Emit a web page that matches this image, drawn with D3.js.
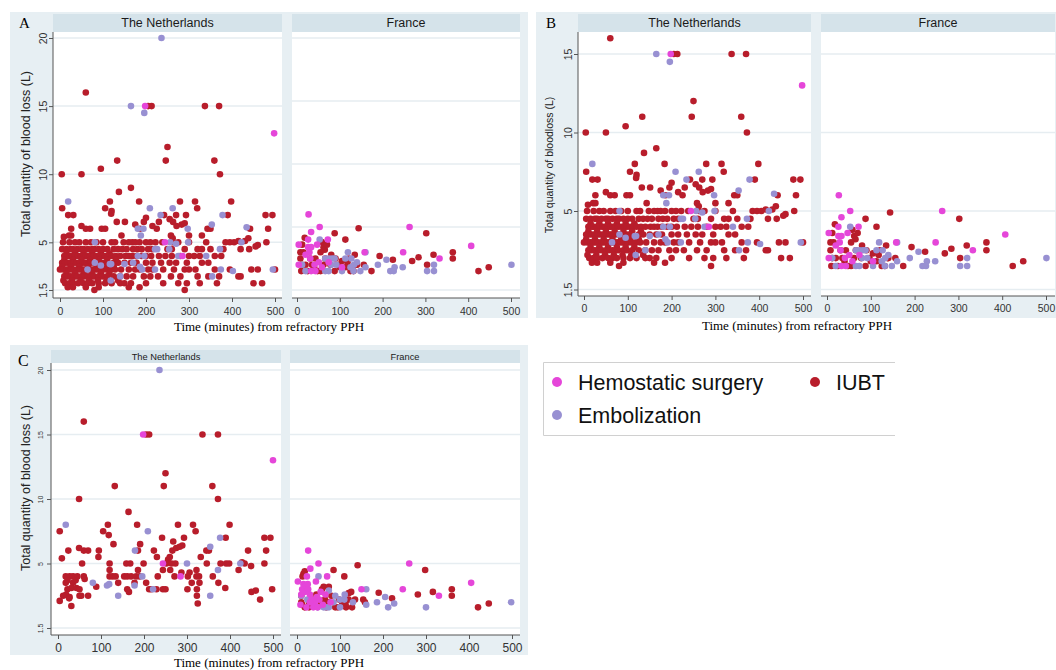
<!DOCTYPE html>
<html>
<head>
<meta charset="utf-8">
<script src="https://cdn.jsdelivr.net/npm/d3@7"></script>
<style>
body { margin: 0; background: #fff; }
svg { display: block; font-family: "Liberation Sans", Arial, sans-serif; }
</style>
</head>
<body>
<svg id="chart" width="1056" height="670"></svg>
<script>
// categories, facets and ticks
const categories = ["IUBT", "Embolization", "Hemostatic surgery"];
const countries = ["The Netherlands", "France"];
const xTickValues = [0, 100, 200, 300, 400, 500];
const yTicksA = [1.5, 5, 10, 15, 20];
const gridFranceA = [0, 5, 10, 15, 20];
const yTicksB = [0, 5, 10, 15];
const yTickLabelsB = ["1.5", "5", "10", "15"];
const yTicksC = [0, 5, 10, 15, 20];
const yTickLabelsC = ["1.5", "5", "10", "15", "20"];

// [minutes from refractory PPH, blood loss in L] - panels A and B
const nlIubt = [
    [60,16],[205,15],[213,15],[337,15],[370,15],[250,12],[246,11],[133,11],[359,11],
    [4,10],[50,10],[372,10],[95,10.4],[137,8.7],[165,9],
    [116,8],[184,8],[279,8],[314,8],[398,8],[5,7.5],[105,7.5],[319,7.5],[120,7.3],
    [19,7],[31,7],[119,7.1],[242,7],[293,7],[390,7],[478,7],[494,7],[270,7],
    [50,6.2],[60,6],[70,6],[26,6],[97,6],[105,6],[186,6],[225,6],[263,6.5],[271,6.2],[283,6.3],
    [290,6.4],[343,6],[350,6],[442,6],[484,6],[9,5.4],[21,5.5],[26,5.5],[132,6.5],[151,6.5],
    [200,6.8],[230,6.5],[255,6.7],[300,5.5],[330,5.5],[143,5.5],[258,5.5],[262,5.3],[195,6.5],
    [175,6.3],[215,6.2],[460,4.8],[430,5.1],[415,5.1],[420,4.5],[438,5.3],[455,4.7],
    [7,5],[22,5],[35,5],[45,5],[60,5],[72,5],[85,5],[100,5],[120,5],[128,5],[148,5],[160,5],
    [168,5],[175,5],[185,5],[200,5],[210,5],[222,5],[238,5],[262,5],[275,5],[300,5],[340,5],
    [385,5],[395,5],[405,5],[480,5],
    [5,4.5],[15,4.5],[25,4.5],[30,4.5],[40,4.5],[50,4.5],[55,4.5],[65,4.5],[75,4.5],[80,4.5],
    [90,4.5],[100,4.5],[110,4.5],[125,4.5],[135,4.5],[145,4.5],[155,4.5],[170,4.5],[180,4.5],
    [190,4.5],[205,4.5],[215,4.5],[250,4.5],[260,4.5],[290,4.5],[320,4.5],[330,4.5],[350,4.5],
    [380,4.5],[440,4.5],
    [15,4.2],[35,4.2],[55,4.2],[75,4.2],[95,4.2],[115,4.2],
    [10,4],[18,4],[22,4],[28,4],[35,4],[42,4],[48,4],[55,4],[60,4],[65,4],[70,4],[78,4],[85,4],
    [92,4],[98,4],[105,4],[112,4],[120,4],[130,4],[140,4],[152,4],[160,4],[168,4],[178,4],
    [190,4],[200,4],[212,4],[230,4],[245,4],[260,4],[280,4],[300,4],[312,4],[325,4],[360,4],[375,4],
    [10,3.7],[30,3.7],[50,3.7],[70,3.7],[90,3.7],[110,3.7],[130,3.7],
    [5,3.5],[12,3.5],[18,3.5],[25,3.5],[32,3.5],[38,3.5],[45,3.5],[52,3.5],[58,3.5],[62,3.5],
    [68,3.5],[72,3.5],[80,3.5],[88,3.5],[95,3.5],[102,3.5],[110,3.5],[125,3.5],[135,3.5],
    [150,3.5],[165,3.5],[178,3.5],[200,3.5],[215,3.5],[235,3.5],[255,3.5],[270,3.5],[295,3.5],
    [330,3.5],[345,3.5],
    [5,3.2],[25,3.2],[45,3.2],[65,3.2],[85,3.2],[105,3.2],[125,3.2],
    [0,3],[8,3],[15,3],[20,3],[26,3],[32,3],[40,3],[46,3],[52,3],[58,3],[64,3],[70,3],[76,3],
    [84,3],[90,3],[100,3],[108,3],[118,3],[128,3],[142,3],[160,3],[175,3],[185,3],[205,3],
    [215,3],[240,3],[265,3],[290,3],[300,3],[315,3],[360,3],[395,3],[445,3],[460,3],[500,3],
    [15,2.7],[35,2.7],[55,2.7],[75,2.7],[95,2.7],[115,2.7],
    [10,2.5],[18,2.5],[25,2.5],[33,2.5],[40,2.5],[50,2.5],[57,2.5],[65,2.5],[72,2.5],[78,2.5],
    [90,2.5],[98,2.5],[110,2.5],[125,2.5],[140,2.5],[155,2.5],[170,2.5],[195,2.5],[210,2.5],
    [228,2.5],[258,2.5],[280,2.5],[320,2.5],[345,2.5],[370,2.5],[415,2.5],[420,2.5],
    [8,2.2],[28,2.2],[48,2.2],[68,2.2],[88,2.2],[108,2.2],[135,2.2],
    [12,2],[22,2],[30,2],[42,2],[55,2],[65,2],[75,2],[90,2],[105,2],[120,2],[140,2],[150,2],
    [165,2],[200,2],[240,2],[275,2],[295,2],[325,2],[365,2],[450,2],[470,2],
    [18,1.7],[30,1.7],[60,1.7],[90,1.7],[160,1.7],[185,1.7],[80,1.5],[290,1.5]
];
const nlEmbo = [
    [236,20],[165,15],[196,14.5],[19,8],[209,7.5],[234,7],[262,7.5],[378,7],[353,6.3],[434,6.1],
    [181,6],[194,6],[188,5.5],[297,6],[81,5],[256,5],[298,5],[270,4.9],[221,4.5],[226,4.5],
    [254,4.5],[372,4.5],[422,5],[181,4],[196,4],[275,4],[340,4],[81,3.5],[95,3.3],[116,3.4],
    [119,3.4],[150,3.4],[170,3.5],[186,3.2],[191,3],[221,3],[64,3],[118,2.2],[140,2.5],
    [354,2.5],[374,3],[402,2.9],[495,3]
];
const nlHemo = [[198,15],[498,13],[244,5],[285,4]];

const frIubt = [
    [144,4.9],[88,4.5],[18,4.15],[113,4],[302,4.5],[364,3],[364,2.5],[193,2.7],[284,2.6],
    [319,2.8],[224,2.4],[269,2.3],[304,2],[174,1.5],[424,1.5],[448,1.8],
    [8,3],[15,3],[12,3.6],[58,3.8],[62,3.4],[65,3.2],[55,3],[70,3.6],[80,2.8],
    [8,2.5],[12,2],[20,2],[31,2.5],[35,2],[43,2.5],[55,1.5],[62,2],[66,2.5],[78,2],[90,2.5],
    [97,2],[113,1.8],[121,2.5],[132,1.5],[140,2],[156,2],[10,1.5],[25,1.5],[40,1.8],[48,1.5],
    [88,1.5],[100,1.8],[118,2.2],[125,1.5],[105,2.3],[135,2.8],[138,2]
];
const frEmbo = [
    [53,4],[119,3],[160,3],[209,2.4],[189,2],[228,1.8],[247,1.8],[320,2],[304,1.5],[320,1.5],
    [218,1.5],[226,1.5],[501,2],[12,2],[20,1.5],[66,2.5],[74,2.5],[82,2.5],[88,2.5],[113,2.5],
    [127,2.5],[133,2],[140,2.2],[66,1.5],[74,1.5],[105,1.5],[125,1.8],[132,1.5],[148,1.5],
    [160,1.8],[92,2],[80,2]
];
const frHemo = [
    [27,6],[53,5],[33,4.6],[26,4],[4,3.6],[72,4],[47,3.6],[263,5],[407,3.5],[248,3],[158,3],
    [333,2.5],[26,3.4],[33,3.4],[29,3],[4,2],[31,2.5],[41,2],[51,2.2],[74,2.2],[105,1.8],
    [33,1.5],[43,1.5],[58,1.8],[20,2.8]
];

// panel C
const cNlIubt = [
    [60,16],[205,15],[212,15],[336,15],[372,15],[250,12],[246,11],[132,11],[359,11],[49,10],
    [372,10],[164,9],[116,8],[184,8],[279,8],[314,8],[399,8],[4,7.5],[105,7.5],[320,7.5],
    [118,7.2],[242,7],[293,7],[390,7],[480,7],[494,7],[129,6.5],[191,6.5],[268,6.7],
    [24,6],[60,6],[70,6],[95,6],[186,6],[223,6],[266,6],[275,6.2],[283,6.3],[289,6.4],[345,6],
    [351,6],[442,6],[484,6],[49,6.2],[9,5.4],[94,5.5],[230,5.5],[332,5.5],[256,5.3],[260,5.5],
    [56,5],[120,5],[159,5],[168,5],[199,5],[252,5],[264,5],[273,5],[346,5],[378,5],[391,5],
    [398,5],[434,5],[480,5],[120,4.5],[186,4.5],[244,4.5],[261,4.5],[322,4.5],[420,4.5],
    [449,4.8],[428,5.1],[18,4],[27,4],[35,4],[45,4],[60,4],[62,3.8],[120,4],[127,4],[134,4],
    [154,4],[161,4],[170,4],[182,4],[190,4],[232,4],[271,4],[287,4.3],[302,4],[306,4.3],
    [322,4],[328,4],[360,4],[18,3.5],[22,3.7],[35,3.5],[41,3.7],[140,3.5],[178,3.5],[205,3.5],
    [311,3.5],[329,3.5],[373,3.5],[22,3],[31,3.1],[43,3.1],[50,3],[89,3.2],[161,3],[212,3],
    [217,3],[229,3],[244,3],[250,3],[301,3],[323,3],[389,3.1],[498,3],[12,2.5],[19,2.6],
    [27,2.4],[50,2.5],[54,2.5],[70,2.5],[165,2.8],[323,2.5],[450,2.8],[460,2.9],[4,2.1],
    [26,2.3],[470,2.2],[325,1.9],[31,1.7]
];
const cNlEmbo = [
    [236,20],[18,8],[209,7.5],[377,7],[354,6.3],[179,6],[300,5],[424,5],[372,4.5],[196,4],
    [81,3.5],[114,3.3],[119,3.4],[178,3.3],[221,3],[140,2.5],[354,2.5]
];
const cNlHemo = [[198,15],[500,13],[244,5],[285,4]];

const cFrIubt = [
    [141,4.87],[85,4.5],[298,4.5],[15,4.2],[110,4],[62,3.2],[58,3],[74,3.2],[360,3],[360,2.5],
    [190,2.73],[281,2.6],[316,2.8],[221,2.3],[120,2.7],[120,2.2],[154,2.2],[158,2],[421,1.6],
    [446,1.9],[114,1.6],[128,1.6],[89,1.6],[10,2.5],[10,2],[12,1.8],[18,1.6],[28,2],[35,2.2],
    [45,2],[50,1.8],[58,2],[65,2.2],[73,2],[80,2.5],[98,2.2],[105,2],[113,1.8],[135,2.2],
    [28,1.6],[40,1.8],[68,1.6],[95,1.6],[18,4.4],[13,4],[45,2.6],[126,2.8]
];
const cFrEmbo = [
    [50,4],[161,3],[111,2.6],[89,2.5],[130,2],[161,1.8],[186,2],[205,2.4],[226,1.9],[212,1.6],
    [300,1.6],[498,2],[10,2.5],[24,2.2],[35,2],[48,1.6],[62,1.6],[68,1.6],[74,1.6],[74,2.9],
    [85,2],[100,2.2],[110,2.2],[100,1.6]
];
const cFrHemo = [
    [26,6],[50,5],[261,5],[31,4.6],[23,4],[70,4],[2,3.6],[44,3.6],[405,3.5],[150,3],[246,3],
    [330,2.5],[15,3.4],[20,3.2],[25,3.4],[12,3],[10,2.6],[18,2.8],[26,3],[30,2.6],[34,2.2],
    [42,2],[46,2.4],[52,2.2],[60,1.8],[38,1.6],[22,1.6],[48,1.6],[66,2.6],[55,2.8],[78,2],
    [8,1.8],[30,2]
];

const svg = d3.select("#chart");
const colorOf = d3.scaleOrdinal().domain(categories).range(["#b81d2b", "#9890d2", "#e546d9"]);
const xTitle = "Time (minutes) from refractory PPH";

const panels = [
    {
        label: "A", labelX: 19, labelY: 28, labelSize: 15,
        bg: [10, 12, 518, 306], stripTop: 14, plotTop: 32, axisY: 298,
        stripFont: 12.5, stripBase: 27, tickFont: 10.5, tickBase: 17,
        yTickFont: 10.5, yTickGap: 6,
        yTitle: "Total quantity of blood loss (L)", yTitleFont: 12.5, yTitleX: 30, yTitleY: 154,
        xTitleX: 269, xTitleY: 331, r: 3.3,
        facets: [
            { name: countries[0], x0: 53, x1: 282, xr: [60, 275],
              y: d3.scaleLinear().domain([1.5, 20]).range([290, 38]),
              grid: yTicksA, tickLabels: yTicksA.map(String), yAxis: true,
              series: [nlIubt, nlEmbo, nlHemo] },
            { name: countries[1], x0: 292, x1: 520, xr: [297, 511],
              y: d3.scaleLinear().domain([0, 20]).range([290, 38]),
              grid: gridFranceA, series: [frIubt, frEmbo, frHemo] }
        ]
    },
    {
        label: "B", labelX: 546, labelY: 28, labelSize: 15,
        bg: [536, 12, 520, 306], stripTop: 14, plotTop: 32, axisY: 296,
        stripFont: 12.5, stripBase: 27, tickFont: 10.5, tickBase: 16,
        yTickFont: 10.5, yTickGap: 6,
        yTitle: "Total quantity of bloodloss (L)", yTitleFont: 10.5, yTitleX: 553, yTitleY: 165,
        xTitleX: 797, xTitleY: 330, r: 3.3,
        facets: [
            { name: countries[0], x0: 578, x1: 811, xr: [584, 803],
              y: d3.scaleLinear().domain([0, 15]).range([289.5, 54]),
              grid: yTicksB, tickLabels: yTickLabelsB, yAxis: true,
              series: [nlIubt, nlEmbo, nlHemo] },
            { name: countries[1], x0: 821, x1: 1055, xr: [827, 1046],
              y: d3.scaleLinear().domain([0, 15]).range([289.5, 54]),
              grid: yTicksB, series: [frIubt, frEmbo, frHemo] }
        ]
    },
    {
        label: "C", labelX: 18, labelY: 366, labelSize: 16,
        bg: [10, 345, 518, 310], stripTop: 350, plotTop: 363, axisY: 635,
        stripFont: 9.3, stripBase: 359.5, tickFont: 12, tickBase: 17,
        yTickFont: 7, yTickGap: 8,
        yTitle: "Total quantity of blood loss (L)", yTitleFont: 12.5, yTitleX: 30, yTitleY: 488,
        xTitleX: 269, xTitleY: 667, r: 3.3,
        facets: [
            { name: countries[0], x0: 51, x1: 281, xr: [58, 273],
              y: d3.scaleLinear().domain([0, 20]).range([628, 370]),
              grid: yTicksC, tickLabels: yTickLabelsC, yAxis: true,
              series: [cNlIubt, cNlEmbo, cNlHemo] },
            { name: countries[1], x0: 290, x1: 520, xr: [297, 512],
              y: d3.scaleLinear().domain([0, 20]).range([628, 370]),
              grid: yTicksC, series: [cFrIubt, cFrEmbo, cFrHemo] }
        ]
    }
];

function drawFacet(g, p, f) {
    let x = d3.scaleLinear().domain([0, 500]).range(f.xr);
    let w = f.x1 - f.x0;

    // strip with country name
    g.append("rect").attr("x", f.x0).attr("y", p.stripTop)
        .attr("width", w).attr("height", p.plotTop - p.stripTop).attr("fill", "#d5e3ea");
    g.append("text").attr("x", (f.x0 + f.x1) / 2).attr("y", p.stripBase)
        .attr("text-anchor", "middle").attr("font-size", p.stripFont).attr("fill", "#1a1a1a")
        .text(f.name);

    g.append("rect").attr("x", f.x0).attr("y", p.plotTop)
        .attr("width", w).attr("height", p.axisY - p.plotTop).attr("fill", "#fff");

    g.append("g").selectAll("line").data(f.grid).join("line")
        .attr("x1", f.x0).attr("x2", f.x1)
        .attr("y1", d => f.y(d)).attr("y2", d => f.y(d))
        .attr("stroke", "#e6edf1").attr("stroke-width", 1.5);

    // IUBT first, then embolization, then surgery on top
    f.series.forEach((s, k) => {
        g.append("g").selectAll("circle")
            .data(s.filter(d => f.y(d[1]) >= p.plotTop))
            .join("circle")
            .attr("cx", d => x(d[0]))
            .attr("cy", d => f.y(d[1]))
            .attr("r", p.r)
            .attr("fill", colorOf(categories[k]));
    });

    let xa = g.append("g").attr("transform", `translate(0,${p.axisY})`)
        .call(d3.axisBottom(x).tickValues(xTickValues).tickSize(4));
    xa.select(".domain").remove();
    xa.attr("font-family", null).attr("font-size", p.tickFont);
    xa.selectAll(".tick line").attr("stroke", "#555");
    xa.selectAll("text").attr("dy", null).attr("y", p.tickBase).attr("fill", "#333");
    g.append("line").attr("x1", f.x0).attr("x2", f.x1)
        .attr("y1", p.axisY).attr("y2", p.axisY).attr("stroke", "#555");

    if (f.yAxis) {
        let ya = g.append("g").attr("transform", `translate(${f.x0},0)`)
            .call(d3.axisLeft(f.y).tickValues(f.grid)
                .tickFormat(d => f.tickLabels[f.grid.indexOf(d)]).tickSize(4));
        ya.select(".domain").remove();
        ya.attr("font-family", null).attr("font-size", p.yTickFont);
        ya.selectAll(".tick line").attr("stroke", "#555");
        ya.selectAll("text")
            .attr("x", 0).attr("dy", null).attr("y", -p.yTickGap)
            .attr("text-anchor", "middle").attr("transform", "rotate(-90)")
            .attr("fill", "#333");
        g.append("line").attr("x1", f.x0).attr("x2", f.x0)
            .attr("y1", p.plotTop).attr("y2", p.axisY).attr("stroke", "#555");
    }
}

function drawPanel(p) {
    let g = svg.append("g");
    g.append("rect").attr("x", p.bg[0]).attr("y", p.bg[1])
        .attr("width", p.bg[2]).attr("height", p.bg[3]).attr("fill", "#e7eff3");
    g.append("text").attr("x", p.labelX).attr("y", p.labelY)
        .attr("font-family", "Liberation Serif").attr("font-size", p.labelSize)
        .text(p.label);

    p.facets.forEach(f => drawFacet(g, p, f));

    g.append("text")
        .attr("transform", `translate(${p.yTitleX},${p.yTitleY}) rotate(-90)`)
        .attr("text-anchor", "middle").attr("font-size", p.yTitleFont).attr("fill", "#222")
        .text(p.yTitle);
    g.append("text").attr("x", p.xTitleX).attr("y", p.xTitleY)
        .attr("text-anchor", "middle").attr("font-family", "Liberation Serif")
        .attr("font-size", 13).attr("fill", "#000")
        .text(xTitle);
}

panels.forEach(drawPanel);

// legend
let legend = svg.append("g");
legend.append("path").attr("d", "M895,362.5H543.5V435.5H895")
    .attr("fill", "none").attr("stroke", "#d0d0d0");
let legendItems = [
    { cat: categories[2], x: 557, y: 382 },
    { cat: categories[1], x: 557, y: 415 },
    { cat: categories[0], x: 815, y: 382 }
];
legend.selectAll("circle").data(legendItems).join("circle")
    .attr("cx", d => d.x).attr("cy", d => d.y).attr("r", 5)
    .attr("fill", d => colorOf(d.cat));
legend.selectAll("text").data(legendItems).join("text")
    .attr("x", d => d.x + 21).attr("y", d => d.y + 8)
    .attr("font-size", 21.5).attr("fill", "#111")
    .text(d => d.cat);
</script>
</body>
</html>
